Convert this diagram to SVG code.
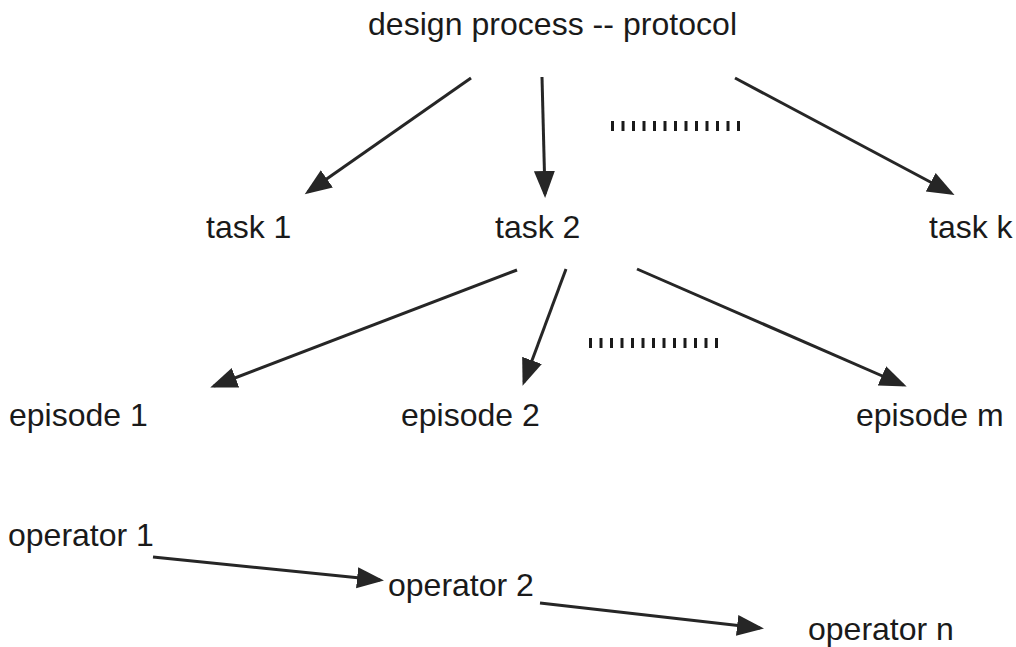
<svg xmlns="http://www.w3.org/2000/svg" width="1016" height="647" viewBox="0 0 1016 647">
<defs>
<style>
text{font-family:"Liberation Sans",Arial,sans-serif;font-size:32px;fill:#1a1a1a}
.c{stroke:#262626;stroke-width:3;fill:none;marker-end:url(#ah)}
.tk{stroke:#1a1a1a;stroke-width:10;stroke-dasharray:3 7.5;fill:none}
</style>
<marker id="ah" markerUnits="userSpaceOnUse" markerWidth="28" markerHeight="24" viewBox="0 0 28 24" refX="23" refY="12" orient="auto">
<path d="M0,1.5 L27,12 L0,22.5 z" fill="#262626"/>
</marker>
</defs>
<rect width="1016" height="647" fill="#ffffff"/>
<g id="title"><text x="368" y="35" textLength="369">design process -- protocol</text></g>
<g id="task1"><text x="206" y="238">task 1</text></g>
<g id="task2"><text x="495" y="238">task 2</text></g>
<g id="taskk"><text x="929" y="238">task k</text></g>
<g id="episode1"><text x="9" y="426">episode 1</text></g>
<g id="episode2"><text x="401" y="426">episode 2</text></g>
<g id="episodem"><text x="856" y="426">episode m</text></g>
<g id="operator1"><text x="8" y="546">operator 1</text></g>
<g id="operator2"><text x="388" y="596">operator 2</text></g>
<g id="operatorn"><text x="808" y="640">operator n</text></g>
<g id="connectors">
<line class="c" x1="471" y1="78" x2="308" y2="192"/>
<line class="c" x1="542" y1="77" x2="545" y2="194"/>
<line class="c" x1="735" y1="78" x2="951" y2="193"/>
<line class="c" x1="517" y1="270" x2="214" y2="386"/>
<line class="c" x1="566" y1="269" x2="524" y2="382"/>
<line class="c" x1="637" y1="269" x2="903" y2="385"/>
<line class="c" x1="153" y1="557" x2="380" y2="580"/>
<line class="c" x1="540" y1="603" x2="760" y2="628"/>
</g>
<g id="ellipses">
<path class="tk" d="M611,126 H742"/>
<path class="tk" d="M589,343 H720"/>
</g>
</svg>
